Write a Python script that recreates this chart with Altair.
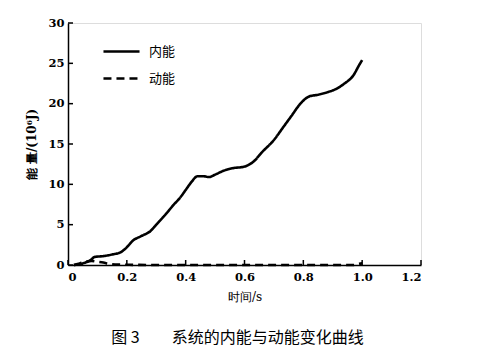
import altair as alt
import pandas as pd

# 内能 (internal energy) series
t_int = [0.02, 0.05, 0.08, 0.09, 0.12, 0.15, 0.18, 0.20, 0.22, 0.25, 0.28, 0.30, 0.33,
         0.36, 0.38, 0.40, 0.42, 0.44, 0.46, 0.48, 0.50, 0.53, 0.56, 0.60, 0.63, 0.66,
         0.70, 0.73, 0.76, 0.79, 0.82, 0.85, 0.88, 0.91, 0.94, 0.97, 0.99, 1.00]
e_int = [0.0, 0.2, 0.7, 1.0, 1.1, 1.3, 1.6, 2.2, 3.0, 3.6, 4.2, 5.0, 6.2,
         7.5, 8.3, 9.3, 10.3, 11.0, 11.0, 10.9, 11.2, 11.7, 12.0, 12.2, 12.8, 14.0,
         15.5, 17.0, 18.5, 20.0, 20.9, 21.1, 21.4, 21.8, 22.5, 23.5, 24.8, 25.4]

# 动能 (kinetic energy) series
t_kin = [0.02, 0.04, 0.06, 0.08, 0.10, 0.12, 0.14, 0.17, 0.22, 0.30, 0.40, 0.50, 0.60,
         0.70, 0.80, 0.90, 0.97, 0.99, 1.00]
e_kin = [0.0, 0.2, 0.4, 0.5, 0.4, 0.3, 0.15, 0.05, 0.02, 0.0, 0.0, 0.0, 0.0,
         0.0, 0.0, 0.0, 0.0, 0.15, 0.2]

x_ticks = [0, 0.2, 0.4, 0.6, 0.8, 1.0, 1.2]
y_ticks = [0, 5, 10, 15, 20, 25, 30]

series_names = ["内能", "动能"]
y_title = "能 量/(10⁶J)"
x_title = "时间/s"
caption = "图 3\u3000\u3000系统的内能与动能变化曲线"

df = pd.concat([
    pd.DataFrame({"t": t_int, "e": e_int, "s": series_names[0]}),
    pd.DataFrame({"t": t_kin, "e": e_kin, "s": series_names[1]}),
])

W, H = 353, 242
serif = "DejaVu Serif"
cjk = "Noto Sans CJK SC"

xs = alt.Scale(domain=[0, 1.2], nice=False, zero=False)
ys = alt.Scale(domain=[0, 30], nice=False)

lines = alt.Chart(df).mark_line(color="black", strokeWidth=2.6, interpolate="monotone").encode(
    x=alt.X("t:Q", scale=xs,
            axis=alt.Axis(values=x_ticks, title=x_title, grid=False, ticks=False,
                          domainColor="black", domainWidth=1.5,
                          labelExpr="datum.value == 0 ? '0' : format(datum.value, '.1f')",
                          labelFont=serif, labelFontWeight="bold",
                          labelFontSize=11.5, labelColor="black", labelPadding=6,
                          titleFont=serif, titleFontWeight="normal", titleFontSize=12,
                          titleColor="black", titlePadding=9)),
    y=alt.Y("e:Q", scale=ys,
            axis=alt.Axis(values=y_ticks, title=y_title, grid=False, ticks=False,
                          domainColor="black", domainWidth=1.5,
                          labelFont=serif, labelFontWeight="bold",
                          labelFontSize=11.5, labelColor="black", labelPadding=4,
                          titleFont=serif, titleFontWeight="bold", titleFontSize=12,
                          titleColor="black", titlePadding=9)),
    strokeDash=alt.StrokeDash("s:N", scale=alt.Scale(domain=series_names, range=[[1, 0], [8, 5]]),
                              legend=alt.Legend(title=None, orient="none", legendX=34, legendY=9,
                                                symbolType="stroke", symbolSize=1300,
                                                symbolStrokeWidth=2.4, symbolStrokeColor="black",
                                                labelFont=cjk, labelFontSize=13,
                                                labelColor="black", labelOffset=8, rowPadding=-3,
                                                symbolOffset=0)),
    detail="s:N",
)

xt = alt.Chart(pd.DataFrame({"v": x_ticks})).mark_rule(color="black", strokeWidth=1.5).encode(
    x=alt.X("v:Q", scale=xs), y=alt.value(H), y2=alt.value(H - 5))
yt = alt.Chart(pd.DataFrame({"v": y_ticks})).mark_rule(color="black", strokeWidth=1.5).encode(
    y=alt.Y("v:Q", scale=ys), x=alt.value(0), x2=alt.value(5))

chart = alt.layer(lines, xt, yt).properties(
    width=W, height=H,
    autosize=alt.AutoSizeParams(type="none"),
    padding={"left": 60, "top": 15, "right": 48, "bottom": 83},
    title=alt.TitleParams(caption, orient="bottom", offset=27, anchor="middle",
                          font=cjk, fontSize=16, fontWeight="normal",
                          color="black", dx=-7),
).configure_view(stroke=None).configure(background="white")

chart.save("out.html", embed_options={"renderer": "svg", "actions": False})
